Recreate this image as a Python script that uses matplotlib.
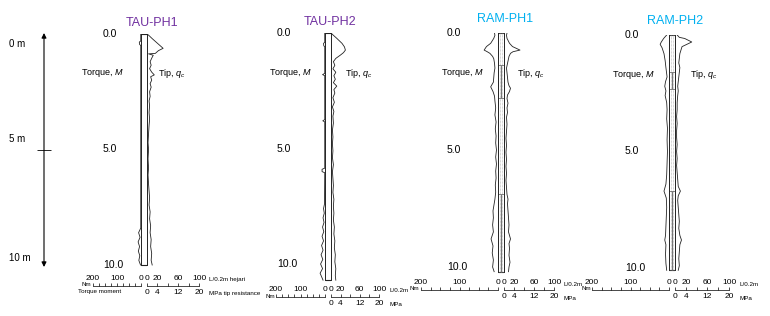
import numpy as np
import matplotlib.pyplot as plt
from matplotlib.transforms import blended_transform_factory

plt.rcParams['font.family'] = ['Liberation Sans', 'DejaVu Sans']
plt.rcParams['mathtext.fontset'] = 'custom'
plt.rcParams['mathtext.rm'] = 'Liberation Sans'
plt.rcParams['mathtext.it'] = 'Liberation Sans:italic'

W, H = 770, 316

# depth arrow on the far left
scale_depths = [0, 5, 10]
scale_labels = ['0 m', '5 m', '10 m']

depth_ticks = [0.0, 5.0, 10.0]
depth_ticklabels = ['0.0', '5.0', '10.0']

titles = ['TAU-PH1', 'TAU-PH2', 'RAM-PH1', 'RAM-PH2']
title_colors = ['#7030a0', '#7030a0', '#00b0f0', '#00b0f0']

torque_ticks = [0, 100, 200]          # Nm
tip_ticks = [0, 20, 60, 100]          # L/0.2m
mpa_ticks = [0, 4, 12, 20]            # MPa
top_units = ['L/0.2m hejari', 'L/0.2m', 'L/0.2m', 'L/0.2m']
bottom_units = ['MPa tip resistance', 'MPa', 'MPa', 'MPa']

# ---- TAU-PH1 ----
tau1_tip_d = [0, 0.05, 0.2, 0.4, 0.62, 0.72, 0.84, 0.86, 0.92, 1.05, 1.2, 1.35, 1.5, 1.65, 1.77,
              1.85, 2.0, 2.15, 2.3, 2.5, 2.7, 2.9, 3.1, 3.4, 3.7, 3.95, 4.3, 4.7, 5.0, 5.4, 5.8,
              6.1, 6.5, 6.8, 7.1, 7.4, 7.7, 8.0, 8.3, 8.6, 8.9, 9.2, 9.5, 9.8, 10.0]
tau1_tip = [0, 3, 10, 20, 31, 22, 16, 3, 12, 9, 6, 8, 5, 9, 14,
            7, 9, 6, 8, 5, 6, 4, 5, 4, 5, 4, 3, 2, 3, 2, 3,
            2, 3, 4, 5, 4, 6, 5, 7, 6, 8, 7, 9, 8, 10]
tau1_torque_d = [0, 0.3, 0.35, 0.45, 0.5, 8.4, 8.6, 8.8, 9.0, 9.2, 9.4, 9.6, 9.8, 10.0]
tau1_torque = [1, 1, 7, 6, 1, 1, 10, 4, 12, 6, 11, 5, 9, 2]

# ---- TAU-PH2 ----
tau2_tip_d = [0, 0.1, 0.23, 0.45, 0.6, 0.74, 0.85, 0.95, 1.1, 1.24, 1.4, 1.55, 1.7, 1.85, 2.0,
              2.15, 2.3, 2.45, 2.6, 2.8, 3.0, 3.2, 3.4, 3.6, 3.9, 4.2, 4.5, 4.8, 5.1, 5.4, 5.7,
              6.0, 6.3, 6.6, 6.9, 7.2, 7.5, 7.8, 8.1, 8.4, 8.7, 9.0, 9.3, 9.6, 9.9, 10.2, 10.5, 10.7]
tau2_tip = [0, 5, 12, 23, 28, 30, 26, 20, 10, 5, 8, 4, 10, 6, 9,
            5, 12, 6, 8, 4, 7, 3, 6, 4, 5, 3, 4, 3, 4, 3, 5,
            3, 4, 5, 4, 6, 5, 6, 5, 7, 6, 8, 7, 9, 8, 10, 9, 10]
tau2_torque_d = [0, 0.4, 0.45, 0.55, 0.6, 1.75, 1.8, 1.85, 3.75, 3.8, 3.85, 5.85, 5.9, 6.0, 6.05,
                 7.4, 7.6, 7.8, 8.0, 8.2, 8.4, 8.6, 8.8, 9.0, 9.2, 9.4, 9.6, 9.8, 10.0, 10.2,
                 10.4, 10.6, 10.7]
tau2_torque = [1, 1, 6, 5, 1, 1, 10, 1, 1, 9, 1, 1, 12, 12, 1,
               2, 6, 3, 8, 4, 10, 5, 12, 6, 14, 8, 16, 9, 18, 10,
               20, 12, 8]

# ---- RAM-PH1 ----
ram1_tip_d = [0, 0.1, 0.23, 0.44, 0.58, 0.65, 0.73, 0.8, 0.87, 1.0, 1.1, 1.3, 1.5, 1.7, 1.9,
              2.1, 2.25, 2.36, 2.5, 2.65, 2.8, 3.0, 3.2, 3.4, 3.6, 3.9, 4.2, 4.5, 4.8, 5.1, 5.4,
              5.7, 6.0, 6.3, 6.6, 6.9, 7.1, 7.3, 7.6, 7.9, 8.2, 8.5, 8.8, 9.0, 9.2, 9.5, 9.8,
              10.0, 10.2]
ram1_tip = [6, 5, 6, 11, 17, 24, 32, 18, 13, 10, 9, 7, 5, 6, 7,
            8, 10, 13, 11, 7, 6, 8, 6, 7, 5, 6, 5, 4, 5, 4, 5,
            4, 5, 4, 5, 6, 8, 7, 8, 9, 10, 9, 13, 10, 11, 10, 12,
            10, 9]
ram1_torque_d = [0, 0.1, 0.23, 0.44, 0.58, 0.73, 0.8, 0.87, 1.0, 1.1, 1.3, 1.5, 1.7, 1.9, 2.1,
                 2.3, 2.5, 2.7, 2.9, 3.2, 3.5, 3.8, 4.1, 4.4, 4.7, 5.0, 5.3, 5.6, 5.9, 6.2,
                 6.5, 6.8, 7.1, 7.4, 7.6, 7.9, 8.2, 8.5, 8.8, 9.1, 9.4, 9.7, 10.0, 10.2]
ram1_torque = [9, 8, 11, 19, 30, 36, 28, 21, 14, 11, 9, 8, 10, 11, 12,
               19, 13, 9, 8, 6, 8, 5, 7, 5, 6, 4, 6, 4, 6, 5,
               7, 6, 8, 11, 13, 12, 14, 12, 18, 13, 15, 12, 14, 10]
ram1_layers = [0, 1.37, 2.78, 6.9, 10.2]
ram1_dark = [(1.37, 2.78), (6.9, 10.2)]

# ---- RAM-PH2 ----
ram2_tip_d = [0, 0.1, 0.15, 0.3, 0.4, 0.5, 0.65, 0.8, 1.0, 1.2, 1.4, 1.6, 1.8, 2.0, 2.2,
              2.4, 2.6, 2.9, 3.2, 3.5, 3.8, 4.1, 4.4, 4.7, 5.0, 5.3, 5.6, 5.9, 6.2, 6.5,
              6.7, 6.9, 7.1, 7.4, 7.7, 8.0, 8.3, 8.6, 8.8, 9.0, 9.3, 9.6, 9.9, 10.1]
ram2_tip = [4, 8, 18, 31, 22, 13, 11, 9, 8, 7, 9, 8, 7, 6, 5,
            6, 5, 4, 4, 3, 4, 3, 3, 4, 3, 4, 3, 4, 5, 6,
            10, 6, 5, 6, 7, 8, 7, 9, 12, 9, 8, 7, 8, 6]
ram2_torque_d = [0, 0.15, 0.3, 0.4, 0.55, 0.65, 0.8, 1.1, 1.4, 1.8, 2.0, 2.2, 2.4, 2.6, 2.9,
                 3.2, 3.6, 4.0, 4.5, 5.0, 5.5, 6.0, 6.4, 6.7, 7.0, 7.4, 7.8, 8.2, 8.6, 8.8,
                 9.0, 9.4, 9.8, 10.1]
ram2_torque = [6, 14, 20, 23, 18, 16, 13, 10, 8, 5, 9, 11, 8, 10, 6,
               5, 6, 4, 5, 4, 5, 6, 8, 13, 7, 6, 7, 8, 9, 11,
               8, 9, 8, 6]
ram2_layers = [0, 1.6, 2.3, 6.7, 10.1]
ram2_dark = [(1.6, 2.3), (6.7, 10.1)]

panels = [
    (tau1_tip_d, tau1_tip, tau1_torque_d, tau1_torque, None, None),
    (tau2_tip_d, tau2_tip, tau2_torque_d, tau2_torque, None, None),
    (ram1_tip_d, ram1_tip, ram1_torque_d, ram1_torque, ram1_layers, ram1_dark),
    (ram2_tip_d, ram2_tip, ram2_torque_d, ram2_torque, ram2_layers, ram2_dark),
]

# layout in pixels: torque 200 / torque 0 / tip 0 / tip 100, depth 0 row, px per m, scale line row
geo = [
    dict(l200=93, zl=141, zr=147, r100=199, y0=34, ppm=23.1, sy=286, dx=103, tq=(103, 73), tp=(172, 73), tx=152, ty=23),
    dict(l200=276, zl=325, zr=331, r100=379, y0=33, ppm=23.1, sy=297, dx=277, tq=(291, 73), tp=(359, 73), tx=330, ty=22),
    dict(l200=421, zl=498, zr=504, r100=554, y0=33, ppm=23.4, sy=290, dx=447, tq=(463, 73), tp=(531, 73), tx=505, ty=19),
    dict(l200=592, zl=669, zr=675, r100=729, y0=35, ppm=23.3, sy=290, dx=625, tq=(634, 75), tp=(704, 75), tx=675, ty=21),
]

fig = plt.figure(figsize=(7.7, 3.16), dpi=100)


def px_axes(x0, x1, ytop, ybot, **kw):
    return fig.add_axes([x0 / W, 1 - ybot / H, (x1 - x0) / W, (ybot - ytop) / H], **kw)


DMAX = 11.0
LINE = '#222222'
for i, (td, tv, md, mv, layers, dark) in enumerate(panels):
    g = geo[i]
    ybot = g['y0'] + DMAX * g['ppm']
    bottom = max(max(td), max(md))

    ax_l = px_axes(g['l200'], g['zl'], g['y0'], ybot)
    ax_l.set_xlim(200, 0)
    ax_l.set_ylim(DMAX, 0)
    ax_l.axis('off')
    ax_l.plot(mv, md, color=LINE, lw=0.6)

    ax_r = px_axes(g['zr'], g['r100'], g['y0'], ybot)
    ax_r.set_xlim(0, 100)
    ax_r.set_ylim(DMAX, 0)
    ax_r.axis('off')
    ax_r.plot(tv, td, color=LINE, lw=0.6)

    # centre column between the two zero lines
    ax_c = px_axes(g['zl'], g['zr'], g['y0'], ybot)
    ax_c.set_xlim(0, 1)
    ax_c.set_ylim(DMAX, 0)
    ax_c.set_xticks([])
    ax_c.set_yticks([])
    ax_c.patch.set_alpha(0)
    for s in ['top', 'bottom']:
        ax_c.spines[s].set_visible(False)
    for s in ['left', 'right']:
        ax_c.spines[s].set_bounds(0, bottom)
        ax_c.spines[s].set_linewidth(0.7)
        ax_c.spines[s].set_color(LINE)
    ax_c.hlines([0, bottom], 0, 1, color=LINE, lw=0.8)
    if layers is not None:
        ax_c.vlines([0.35, 0.65], 0, bottom, color='#aaaaaa', lw=0.5, linestyles=(0, (1, 1)))
        ax_c.hlines(layers, 0, 1, color='#555555', lw=0.5)
        for a, b in dark:
            ax_c.vlines(0.5, a, b, color='#777777', lw=0.8)

    # depth labels
    tr = blended_transform_factory(fig.transFigure, ax_c.transData)
    for d, lab in zip(depth_ticks, depth_ticklabels):
        fig.text(g['dx'] / W, d, lab, transform=tr, ha='left', va='center', fontsize=7.5)

    fig.text(g['tx'] / W, 1 - g['ty'] / H, titles[i], color=title_colors[i],
             ha='center', va='center', fontsize=9)
    fig.text(g['tq'][0] / W, 1 - g['tq'][1] / H, 'Torque, $M$', ha='center', va='center', fontsize=6.5)
    fig.text(g['tp'][0] / W, 1 - g['tp'][1] / H, 'Tip, $q_c$', ha='center', va='center', fontsize=6.5)

    # bottom scales
    s_l = px_axes(g['l200'], g['zl'], g['sy'] - 0.2, g['sy'], sharex=ax_l)
    s_r = px_axes(g['zr'], g['r100'], g['sy'] - 0.2, g['sy'], sharex=ax_r)
    for s_ax in (s_l, s_r):
        s_ax.set_yticks([])
        s_ax.patch.set_alpha(0)
        for s in ['left', 'right', 'bottom']:
            s_ax.spines[s].set_visible(False)
        s_ax.spines['top'].set_linewidth(0.5)
        s_ax.xaxis.tick_top()
        s_ax.tick_params(axis='x', which='both', direction='out', length=2, width=0.5,
                         pad=1, labelsize=6)
    s_l.set_xticks(torque_ticks)
    s_l.set_xticks(np.arange(0, 201, 25), minor=True)
    s_r.set_xticks(tip_ticks)
    s_r.set_xticks(np.arange(0, 101, 20), minor=True)
    sec = s_r.secondary_xaxis('bottom', functions=(lambda x: x / 5, lambda x: x * 5))
    sec.set_xticks(mpa_ticks)
    sec.spines['bottom'].set_visible(False)
    sec.tick_params(axis='x', length=0, pad=2, labelsize=6)

    fig.text((g['r100'] + 10) / W, 1 - (g['sy'] - 6) / H, top_units[i], ha='left', va='center', fontsize=4.5)
    fig.text((g['r100'] + 10) / W, 1 - (g['sy'] + 8) / H, bottom_units[i], ha='left', va='center', fontsize=4.5)
    fig.text((g['l200'] - 11) / W, 1 - (g['sy'] - 1) / H, 'Nm', ha='left', va='center', fontsize=4.5)
    if i == 0:
        fig.text((g['l200'] - 15) / W, 1 - (g['sy'] + 5) / H, 'Torque moment', ha='left', va='center', fontsize=4.5)

# depth arrow
ax_a = px_axes(30, 58, 33, 267)
ax_a.set_xlim(-1, 1)
ax_a.set_ylim(max(scale_depths), min(scale_depths))
ax_a.axis('off')
ax_a.annotate('', xy=(0, min(scale_depths)), xytext=(0, max(scale_depths)),
              arrowprops=dict(arrowstyle='<|-|>', color='black', lw=0.8,
                              mutation_scale=7, shrinkA=0, shrinkB=0))
ax_a.hlines(scale_depths[1:-1], -0.5, 0.5, color='black', lw=0.6)
tr_a = blended_transform_factory(fig.transFigure, ax_a.transData)
for d, lab, off in zip(scale_depths, scale_labels, [0.45, -0.45, -0.4]):
    fig.text(9 / W, d + off, lab, transform=tr_a, ha='left', va='center', fontsize=7)

fig.savefig('out.png', dpi=100)
